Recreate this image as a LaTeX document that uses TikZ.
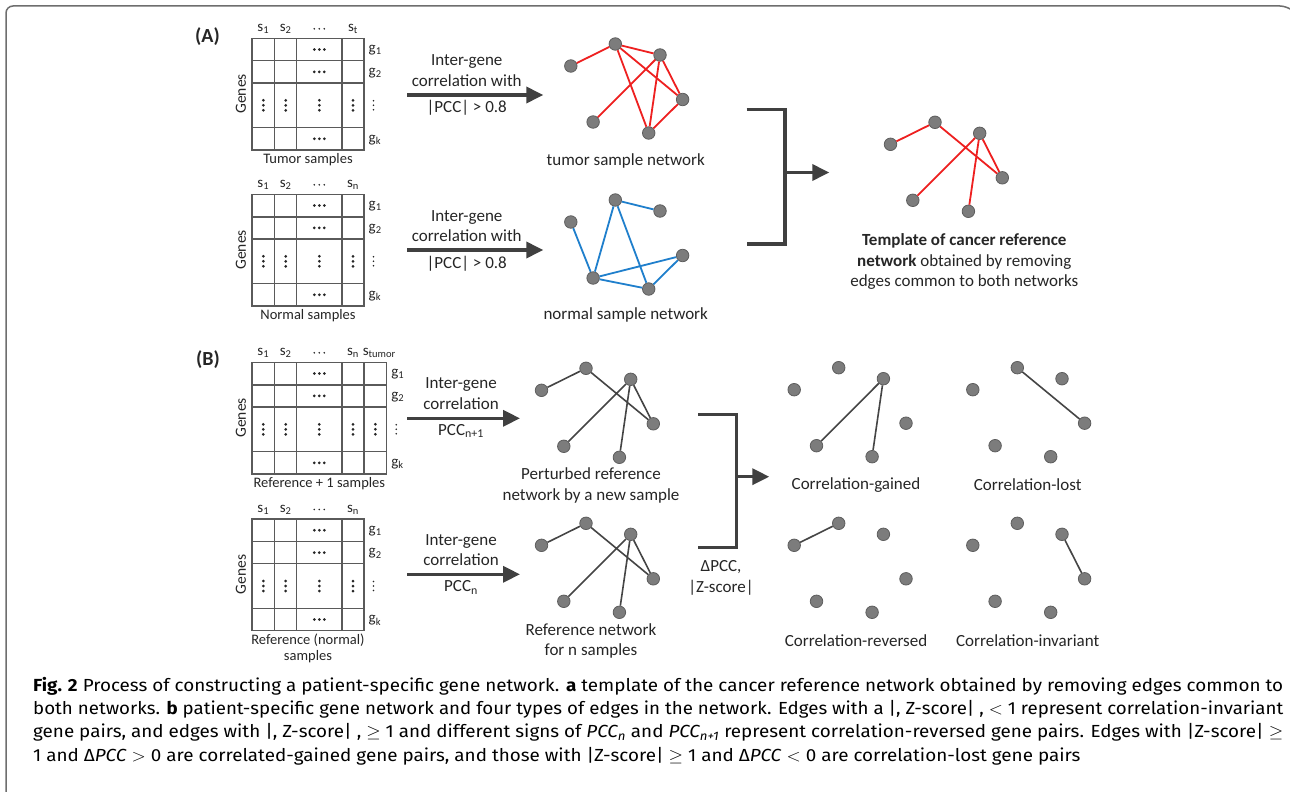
\documentclass[tikz,border=0pt]{standalone}
\usepackage{fontspec}
\usepackage{graphicx}
\setmainfont{Carlito}
\newfontfamily\capfont{Fira Sans}
\usetikzlibrary{arrows.meta}
\definecolor{txt}{HTML}{262626}
\definecolor{gridc}{HTML}{5A5A5A}
\definecolor{arrc}{HTML}{404040}
\definecolor{nodefill}{HTML}{7C7C7C}
\definecolor{nodeedge}{HTML}{5E5E5E}
\definecolor{redE}{HTML}{EE2020}
\definecolor{blueE}{HTML}{1F7FCC}
\definecolor{grayE}{HTML}{454545}
\definecolor{framec}{HTML}{6E6E6E}
\newlength\capw
\newcommand{\capsize}{\capfont\fontsize{17.5}{22}\selectfont}
\newcommand{\capone}{\textbf{Fig. 2} Process of constructing a patient-specific gene network. \textbf{a} template of the cancer reference network obtained by removing edges common to}
\tikzset{
 gridline/.style={draw=gridc, line width=1.4pt},
 lbl/.style={font=\fontsize{14.5}{16.5}\selectfont, text=txt, inner sep=0pt, align=center},
 netlbl/.style={font=\fontsize{17}{20.5}\selectfont, text=txt, inner sep=0pt, align=center},
 gnode/.style={circle, fill=nodefill, draw=nodeedge, line width=0.8pt, minimum size=12.5pt, inner sep=0pt},
 redge/.style={draw=redE, line width=1.8pt},
 bedge/.style={draw=blueE, line width=1.8pt},
 kedge/.style={draw=grayE, line width=1.6pt},
 bigarrow/.style={draw=arrc, line width=3.5pt, -{Triangle[length=17pt,width=16pt]}},
 bracket/.style={draw=arrc, line width=3.5pt},
 capline/.style={font=\capsize, text=black, inner sep=0pt, anchor=base west},
}
\newcommand{\gmat}[5]{%
\begin{scope}[shift={(0,#2)}]
 \draw[gridline] (252,0) rectangle (#3,111.6);
 \foreach \yy in {22.5,44.7,89.4} \draw[gridline] (252,\yy) -- (#3,\yy);
 \foreach \xx in {274.7,296.7,342,364} \draw[gridline] (\xx,0) -- (\xx,111.6);
 \foreach \yy in {11.25,33.6,100.5} \foreach \dx in {-5,0,5} \fill[txt] (319.3+\dx,\yy) circle (1.5);
 \foreach \xx in {263.3,285.7,319.3,353} \foreach \dy in {-5,0,5} \fill[txt] (\xx,67+\dy) circle (1.5);
 \node[lbl, font=\fontsize{15}{17}\selectfont] (#1-h1) at (263.3,-9.5) {s\textsubscript{1}};
 \node[lbl, font=\fontsize{15}{17}\selectfont] (#1-h2) at (285.7,-9.5) {s\textsubscript{2}};
 \foreach \dx in {-5,0,5} \fill[txt] (319.3+\dx,-9.5) circle (0.9);
 \node[lbl, font=\fontsize{15}{17}\selectfont] (#1-hn) at (353,-9.5) {s\textsubscript{#4}};
 \node[lbl, anchor=west, font=\fontsize{15}{17}\selectfont] (#1-g1) at (#3+4.5,12) {g\textsubscript{1}};
 \node[lbl, anchor=west, font=\fontsize{15}{17}\selectfont] (#1-g2) at (#3+4.5,34.5) {g\textsubscript{2}};
 \node[lbl, anchor=west, font=\fontsize{15}{17}\selectfont] (#1-gk) at (#3+4.5,101.5) {g\textsubscript{k}};
 \foreach \dy in {-4.5,0,4.5} \fill[txt] (#3+9.5,67+\dy) circle (0.9);
 \node[lbl, rotate=90, font=\fontsize{15.5}{17}\selectfont] (#1-genes) at (241,55.5) {Genes};
 \node[lbl, anchor=north] (#1-cap) at ({(252+#3)/2},114.5) {#5};
\end{scope}}
\newcommand{\gnet}[3]{%
 \node[gnode] (#1a) at (#2-44.5,#3+22) {};
 \node[gnode] (#1b) at (#2,#3) {};
 \node[gnode] (#1c) at (#2+44.7,#3+11) {};
 \node[gnode] (#1d) at (#2+67.3,#3+55.5) {};
 \node[gnode] (#1e) at (#2-22.2,#3+78) {};
 \node[gnode] (#1f) at (#2+33.4,#3+89) {};}
\begin{document}
\settowidth\capw{\capsize\capone}
\begin{tikzpicture}[x=1pt,y=-1pt]
\pgfmathsetmacro\capscale{1250/\capw}
\useasboundingbox (0,0) rectangle (1290,792);
\fill[white] (0,0) rectangle (1290,792);
\draw[framec, line width=1.5pt, rounded corners=7pt] (6,796) -- (6,6) -- (1287,6) -- (1293,11);
% labels
\node[font=\bfseries\fontsize{20}{24}\selectfont, text=txt, inner sep=0pt] (labA) at (207.5,37) {(A)};
\node[font=\bfseries\fontsize{20}{24}\selectfont, text=txt, inner sep=0pt] (labB) at (208,360) {(B)};
% matrices
\gmat{m1}{38.3}{364}{t}{Tumor samples}
\gmat{m2}{194.3}{364}{n}{Normal samples}
\gmat{m3}{362.3}{386.7}{n}{Reference + 1 samples}
\foreach \dy in {-5,0,5} \fill[txt] (375.3,362.3+67+\dy) circle (1.5);
\node[lbl, font=\fontsize{15}{17}\selectfont] (m3-ht) at (379.3,352.8) {s\textsubscript{tumor}};
\gmat{m4}{519}{364}{n}{Reference (normal)\\samples}
% panel A arrows
\coordinate (a1s) at (407.3,95); \coordinate (a1e) at (543.3,95);
\draw[bigarrow] (a1s) -- (a1e);
\node[netlbl] (a1t) at (466.7,70.5) {Inter-gene\\correlation with};
\node[netlbl] (a1b) at (466.7,107.3) {|PCC| > 0.8};
\coordinate (a2s) at (407.3,250); \coordinate (a2e) at (543.3,250);
\draw[bigarrow] (a2s) -- (a2e);
\node[netlbl] (a2t) at (466.7,226) {Inter-gene\\correlation with};
\node[netlbl] (a2b) at (466.7,263.5) {|PCC| > 0.8};
% tumor network
\gnet{t}{615.3}{44}
\draw[redge] (ta)--(tb) (tb)--(tc) (tb)--(tf) (tb)--(td) (tc)--(te) (tc)--(tf) (tc)--(td) (td)--(tf);
\node[netlbl] (tlab) at (625.7,161) {tumor sample network};
% normal network
\gnet{n}{615.3}{200}
\draw[bedge] (na)--(ne) (nb)--(ne) (nb)--(nc) (nb)--(nf) (ne)--(nd) (ne)--(nf) (nf)--(nd);
\node[netlbl] (nlab) at (625.7,315) {normal sample network};
% bracket A
\coordinate (bat) at (746.7,109.5); \coordinate (bab) at (746.7,244);
\coordinate (bam) at (785,172.5); \coordinate (bae) at (829.3,172.5);
\draw[bracket] (bat) -| (bam) |- (bab);
\draw[bigarrow] (bam) -- (bae);
% template network
\gnet{r}{935}{122.3}
\draw[redge] (ra)--(rb) (rb)--(rd) (rc)--(re) (rc)--(rf) (rc)--(rd);
\node[netlbl] (rlab) at (964.3,261.7) {\textbf{Template of cancer reference}\\\textbf{network} obtained by removing\\edges common to both networks};
% panel B arrows
\coordinate (b1s) at (407.3,418.3); \coordinate (b1e) at (520,418.3);
\draw[bigarrow] (b1s) -- (b1e);
\node[netlbl] (b1t) at (461,393.7) {Inter-gene\\correlation};
\node[netlbl] (b1b) at (461,431) {PCC\textsubscript{n+1}};
\coordinate (b2s) at (407.3,574.3); \coordinate (b2e) at (520,574.3);
\draw[bigarrow] (b2s) -- (b2e);
\node[netlbl] (b2t) at (461,550.3) {Inter-gene\\correlation};
\node[netlbl] (b2b) at (461,587.5) {PCC\textsubscript{n}};
% perturbed / reference networks
\gnet{p}{586}{368.3}
\draw[kedge] (pa)--(pb) (pb)--(pd) (pc)--(pe) (pc)--(pf) (pc)--(pd);
\node[netlbl] (plab) at (591,485.3) {Perturbed reference\\network by a new sample};
\gnet{q}{586}{523.3}
\draw[kedge] (qa)--(qb) (qb)--(qd) (qc)--(qe) (qc)--(qf) (qc)--(qd);
\node[netlbl] (qlab) at (591,641.2) {Reference network\\for n samples};
% bracket B
\coordinate (bbt) at (698.3,414.5); \coordinate (bbb) at (698.3,547.3);
\coordinate (bbm) at (736.5,476.7); \coordinate (bbe) at (769.3,476.7);
\draw[bracket] (bbt) -| (bbm) |- (bbb);
\draw[bigarrow] (bbm) -- (bbe);
\node[netlbl] (dz) at (721,577.7) {ΔPCC,\\|Z-score|};
% four result networks
\gnet{g}{838.7}{367.7}
\draw[kedge] (gc)--(ge) (gc)--(gf);
\node[netlbl] (glab) at (856,485) {Correlation-gained};
\gnet{l}{1017.3}{367.7}
\draw[kedge] (lb)--(ld);
\node[netlbl] (llab) at (1027.7,485) {Correlation-lost};
\gnet{v}{838.7}{523.3}
\draw[kedge] (va)--(vb);
\node[netlbl] (vlab) at (856,640.7) {Correlation-reversed};
\gnet{i}{1017.3}{523.3}
\draw[kedge] (ic)--(id);
\node[netlbl] (ilab) at (1027.7,640.7) {Correlation-invariant};
% caption
\node[capline] (c1) at (33,691) {\scalebox{\capscale}[1]{\capone}};
\node[capline] (c2) at (33,714.3) {\resizebox{1250pt}{\height}{both networks. \textbf{b} patient-specific gene network and four types of edges in the network. Edges with a |, Z-score| , $<$ 1 represent correlation-invariant}};
\node[capline] (c3) at (33,737.6) {\resizebox{1250pt}{\height}{gene pairs, and edges with |, Z-score| , $\geq$ 1 and different signs of \textit{PCC\textsubscript{n}} and \textit{PCC\textsubscript{n+1}} represent correlation-reversed gene pairs. Edges with |Z-score| $\geq$}};
\node[capline] (c4) at (33,761) {\scalebox{\capscale}[1]{1 and Δ\textit{PCC} $>$ 0 are correlated-gained gene pairs, and those with |Z-score| $\geq$ 1 and Δ\textit{PCC} $<$ 0 are correlation-lost gene pairs}};
\end{tikzpicture}
\end{document}
